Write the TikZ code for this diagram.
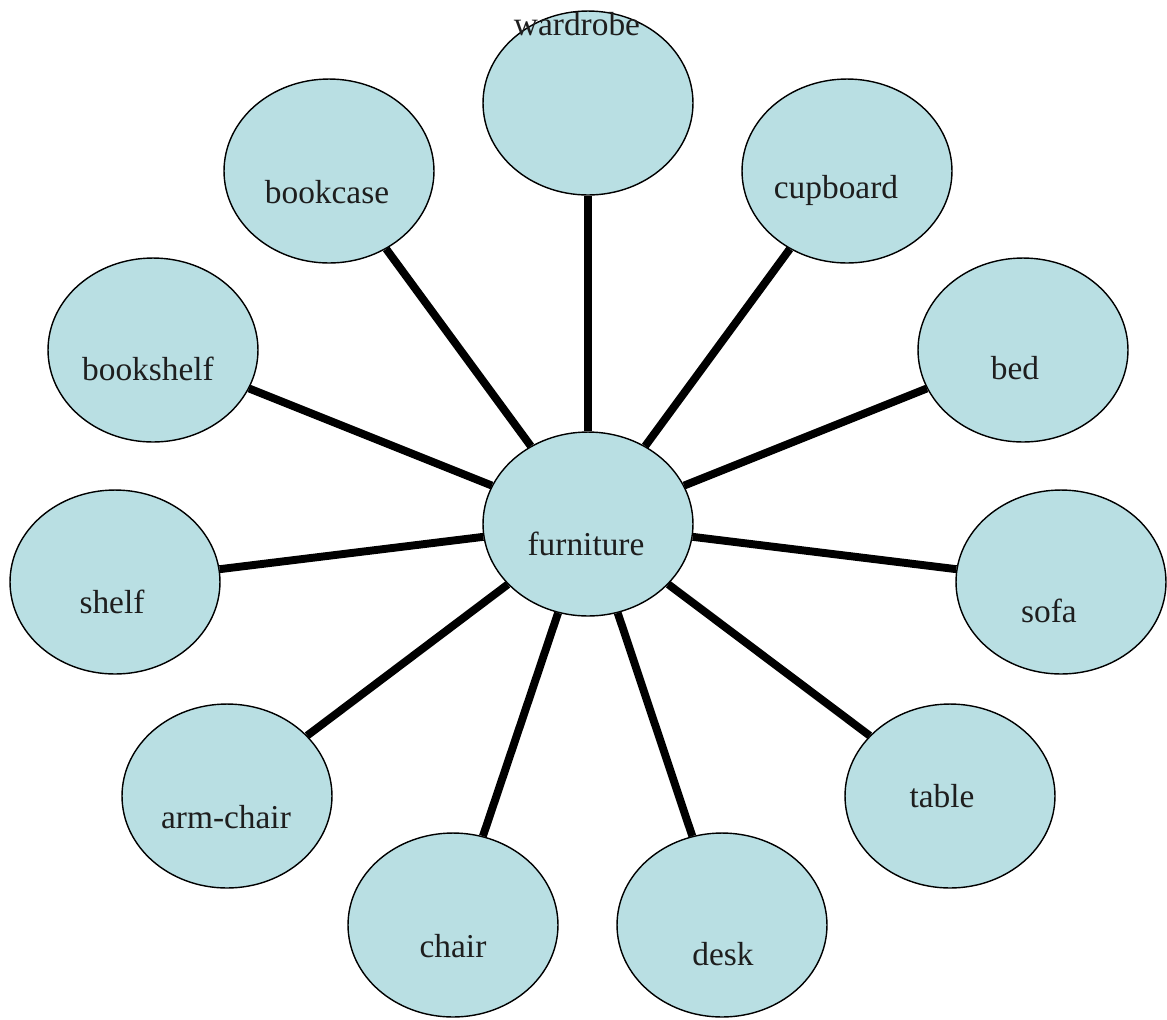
\documentclass[tikz,border=0pt]{standalone}
\usepackage{fontspec}
\setmainfont{Liberation Serif}
\usetikzlibrary{shapes.geometric}
\definecolor{bubble}{RGB}{185,223,227}
\definecolor{ink}{RGB}{30,30,30}
\tikzset{
  bubble/.style={ellipse, draw=black, line width=0.8pt, fill=bubble, inner sep=0pt,
     minimum width=4.2cm, minimum height=3.68cm},
  lbl/.style={anchor=base, inner sep=0pt, text=ink, font=\fontsize{19}{22}\selectfont},
  spoke/.style={line width=4.5pt, black}
}
\begin{document}
\begin{tikzpicture}[x=0.02cm, y=-0.02cm]
\useasboundingbox (0,0) rectangle (1167,1019);
% ellipses
\node[bubble] (furniture) at (588,524) {};
\node[bubble] (wardrobe) at (588,103) {};
\node[bubble] (bookcase) at (329,171) {};
\node[bubble] (cupboard) at (847,171) {};
\node[bubble] (bookshelf) at (153,350) {};
\node[bubble] (bed) at (1023,350) {};
\node[bubble] (shelf) at (115,582) {};
\node[bubble] (sofa) at (1061,582) {};
\node[bubble] (armchair) at (227,796) {};
\node[bubble] (table) at (950,796) {};
\node[bubble] (chair) at (453,925) {};
\node[bubble] (desk) at (722,925) {};
% spokes
\foreach \n in {wardrobe,bookcase,cupboard,bookshelf,bed,shelf,sofa,armchair,table,chair,desk}
  \draw[spoke] (furniture) -- (\n);
% labels
\node[lbl] (tfurniture) at (586,555) {furniture};
\node[lbl] (twardrobe) at (577,35) {wardrobe};
\node[lbl] (tbookcase) at (327,203) {bookcase};
\node[lbl] (tcupboard) at (836,198) {cupboard};
\node[lbl] (tbookshelf) at (148,380) {bookshelf};
\node[lbl] (tbed) at (1015,379) {bed};
\node[lbl] (tshelf) at (112,613) {shelf};
\node[lbl] (tsofa) at (1049,622) {sofa};
\node[lbl] (tarmchair) at (226,828) {arm-chair};
\node[lbl] (ttable) at (942,807) {table};
\node[lbl] (tchair) at (453,957) {chair};
\node[lbl] (tdesk) at (723,965) {desk};
\end{tikzpicture}
\end{document}
